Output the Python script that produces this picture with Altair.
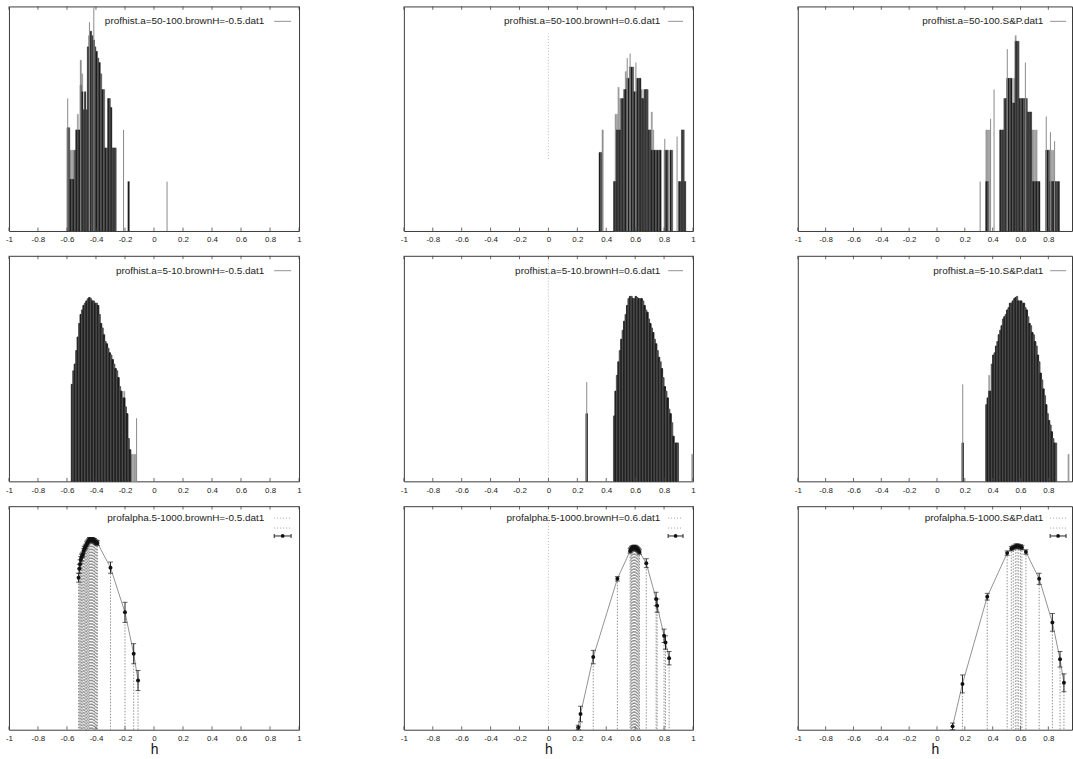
import altair as alt
import pandas as pd

FONT = "Liberation Sans"
BIN = 0.01
TICK_VALUES = [-1, -0.8, -0.6, -0.4, -0.2, 0, 0.2, 0.4, 0.6, 0.8, 1]

# panel geometry (plot areas)
PANEL_W = [292, 291, 276]
X_MAX = [1.0, 1.0, 0.97]
ROW_H = [226, 227, 225]
KEY_END = [257, 258, 247]
KEY_SAMPLE = [(267, 284), (266, 281), (254, 270)]

# ---------------- row 1: profhist a=50-100 ----------------
r1a_x = [-0.60, -0.59, -0.58, -0.57, -0.56, -0.55, -0.54, -0.53, -0.52, -0.51,
         -0.50, -0.49, -0.48, -0.47, -0.46, -0.45, -0.44, -0.43, -0.42, -0.41,
         -0.40, -0.39, -0.38, -0.37, -0.36, -0.35, -0.34, -0.33, -0.32, -0.31,
         -0.30, -0.29, -0.28, -0.27, -0.18]
r1a_h = [0.46, 0.46, 0.23, 0.23, 0.23, 0.36, 0.45, 0.45, 0.45, 0.65,
         0.62, 0.54, 0.62, 0.54, 0.82, 0.87, 0.89, 0.87, 0.85, 0.82,
         0.80, 0.77, 0.75, 0.70, 0.63, 0.63, 0.37, 0.37, 0.59, 0.59,
         0.55, 0.37, 0.37, 0.37, 0.22]
r1a_light_x = [-0.58, -0.57, -0.56, -0.53, -0.51, -0.50]
r1a_light_h = [0.36, 0.36, 0.36, 0.52, 0.76, 0.70]
r1a_spike_x = [-0.595, -0.505, -0.445, -0.415, -0.21, 0.09]
r1a_spike_h = [0.59, 0.76, 0.93, 1.0, 0.45, 0.22]

r1b_x = [0.35, 0.36, 0.45, 0.46, 0.47, 0.48, 0.49, 0.50, 0.51, 0.52,
         0.53, 0.54, 0.55, 0.56, 0.57, 0.58, 0.59, 0.60, 0.61, 0.62,
         0.63, 0.64, 0.65, 0.66, 0.67, 0.68, 0.69, 0.70, 0.71, 0.72,
         0.73, 0.74, 0.75, 0.76, 0.77, 0.80, 0.81, 0.82, 0.84, 0.85,
         0.90, 0.91, 0.92, 0.93, 0.94]
r1b_h = [0.35, 0.35, 0.22, 0.22, 0.45, 0.45, 0.45, 0.59, 0.59, 0.63,
         0.63, 0.68, 0.68, 0.73, 0.73, 0.73, 0.62, 0.62, 0.68, 0.68,
         0.68, 0.59, 0.59, 0.63, 0.63, 0.63, 0.45, 0.45, 0.36, 0.36,
         0.36, 0.36, 0.36, 0.36, 0.36, 0.36, 0.36, 0.36, 0.36, 0.36,
         0.22, 0.22, 0.45, 0.45, 0.22]
r1b_light_x = [0.37, 0.46, 0.47, 0.48, 0.49, 0.53, 0.64, 0.71, 0.72]
r1b_light_h = [0.45, 0.52, 0.52, 0.64, 0.59, 0.71, 0.63, 0.53, 0.45]
r1b_spike_x = [0.375, 0.545, 0.565, 0.605, 0.805, 0.89]
r1b_spike_h = [0.45, 0.77, 0.79, 0.75, 0.41, 0.42]
r1b_zero = [0.32, 0.88]

r1c_x = [0.35, 0.36, 0.45, 0.46, 0.47, 0.48, 0.49, 0.50, 0.51, 0.52,
         0.53, 0.54, 0.55, 0.56, 0.57, 0.58, 0.59, 0.60, 0.61, 0.62,
         0.63, 0.64, 0.65, 0.66, 0.67, 0.68, 0.69, 0.70, 0.71, 0.72,
         0.73, 0.78, 0.79, 0.80, 0.81, 0.82, 0.83, 0.84, 0.85, 0.86,
         0.87]
r1c_h = [0.22, 0.22, 0.45, 0.45, 0.45, 0.59, 0.59, 0.68, 0.68, 0.68,
         0.68, 0.57, 0.57, 0.845, 0.845, 0.845, 0.59, 0.59, 0.59, 0.59,
         0.59, 0.59, 0.53, 0.53, 0.53, 0.22, 0.22, 0.22, 0.22, 0.22,
         0.22, 0.36, 0.36, 0.36, 0.22, 0.22, 0.22, 0.22, 0.22, 0.22,
         0.22]
r1c_light_x = [0.35, 0.36, 0.37, 0.55, 0.56, 0.68, 0.69, 0.70, 0.71, 0.82, 0.83]
r1c_light_h = [0.45, 0.45, 0.45, 0.68, 0.87, 0.45, 0.45, 0.45, 0.45, 0.36, 0.36]
r1c_spike_x = [0.31, 0.385, 0.41, 0.505, 0.635, 0.785, 0.815, 0.845]
r1c_spike_h = [0.22, 0.50, 0.63, 0.81, 0.75, 0.51, 0.44, 0.40]

# ---------------- row 2: profhist a=5-10 ----------------
r2a_x = [-0.57, -0.56, -0.55, -0.54, -0.53, -0.52, -0.51, -0.50, -0.49, -0.48,
         -0.47, -0.46, -0.45, -0.44, -0.43, -0.42, -0.41, -0.40, -0.39, -0.38,
         -0.37, -0.36, -0.35, -0.34, -0.33, -0.32, -0.31, -0.30, -0.29, -0.28,
         -0.27, -0.26, -0.25, -0.24, -0.23, -0.22, -0.21, -0.20, -0.19, -0.18,
         -0.17]
r2a_h = [0.43, 0.49, 0.52, 0.58, 0.64, 0.70, 0.74, 0.76, 0.78, 0.79,
         0.80, 0.81, 0.815, 0.81, 0.80, 0.80, 0.79, 0.79, 0.78, 0.74,
         0.70, 0.68, 0.65, 0.62, 0.61, 0.59, 0.57, 0.56, 0.54, 0.52,
         0.50, 0.49, 0.46, 0.42, 0.40, 0.37, 0.37, 0.33, 0.30, 0.19,
         0.14]
r2a_light_x = [-0.21, -0.16, -0.15, -0.14, -0.13]
r2a_light_h = [0.40, 0.12, 0.12, 0.12, 0.12]
r2a_spike_x = [-0.12]
r2a_spike_h = [0.28]

r2b_x = [0.26, 0.45, 0.46, 0.47, 0.48, 0.49, 0.50, 0.51, 0.52, 0.53,
         0.54, 0.55, 0.56, 0.57, 0.58, 0.59, 0.60, 0.61, 0.62, 0.63,
         0.64, 0.65, 0.66, 0.67, 0.68, 0.69, 0.70, 0.71, 0.72, 0.73,
         0.74, 0.75, 0.76, 0.77, 0.78, 0.79, 0.80, 0.81, 0.82, 0.83,
         0.84, 0.85, 0.86, 0.87, 0.88, 0.89]
r2b_h = [0.30, 0.29, 0.40, 0.47, 0.53, 0.58, 0.63, 0.67, 0.71, 0.74,
         0.78, 0.81, 0.82, 0.82, 0.81, 0.81, 0.82, 0.815, 0.81, 0.81,
         0.81, 0.80, 0.78, 0.76, 0.75, 0.72, 0.70, 0.68, 0.66, 0.63,
         0.61, 0.58, 0.55, 0.53, 0.50, 0.46, 0.42, 0.40, 0.37, 0.32,
         0.30, 0.26, 0.20, 0.17, 0.17, 0.17]
r2b_light_x = [0.99]
r2b_light_h = [0.12]
r2b_spike_x = [0.265]
r2b_spike_h = [0.44]
r2b_zero = [0.0, 1.0]

r2c_x = [0.18, 0.35, 0.36, 0.37, 0.38, 0.39, 0.40, 0.41, 0.42, 0.43,
         0.44, 0.45, 0.46, 0.47, 0.48, 0.49, 0.50, 0.51, 0.52, 0.53,
         0.54, 0.55, 0.56, 0.57, 0.58, 0.59, 0.60, 0.61, 0.62, 0.63,
         0.64, 0.65, 0.66, 0.67, 0.68, 0.69, 0.70, 0.71, 0.72, 0.73,
         0.74, 0.75, 0.76, 0.77, 0.78, 0.79, 0.80, 0.81, 0.82, 0.83,
         0.84, 0.85]
r2c_h = [0.17, 0.34, 0.37, 0.40, 0.40, 0.52, 0.56, 0.57, 0.60, 0.62,
         0.65, 0.67, 0.69, 0.72, 0.73, 0.74, 0.76, 0.77, 0.79, 0.79,
         0.80, 0.81, 0.815, 0.82, 0.80, 0.80, 0.80, 0.79, 0.79, 0.77,
         0.76, 0.73, 0.70, 0.69, 0.66, 0.65, 0.62, 0.60, 0.56, 0.53,
         0.48, 0.45, 0.41, 0.38, 0.34, 0.30, 0.27, 0.25, 0.22, 0.19,
         0.17, 0.17]
r2c_light_x = [0.37, 0.94]
r2c_light_h = [0.47, 0.12]
r2c_spike_x = [0.185]
r2c_spike_h = [0.43]

# ---------------- row 3: profalpha 5-1000 ----------------
r3a_x = [-0.520, -0.515, -0.510, -0.505, -0.500, -0.495, -0.490, -0.485, -0.480, -0.475,
         -0.470, -0.465, -0.460, -0.455, -0.450, -0.445, -0.440, -0.435, -0.430, -0.425,
         -0.420, -0.415, -0.410, -0.405, -0.400, -0.395, -0.390, -0.300, -0.200, -0.140,
         -0.110]
r3a_y = [0.68, 0.72, 0.74, 0.76, 0.77, 0.78, 0.785, 0.80, 0.81, 0.815,
         0.82, 0.83, 0.835, 0.84, 0.845, 0.85, 0.85, 0.85, 0.85, 0.85,
         0.848, 0.845, 0.845, 0.84, 0.838, 0.836, 0.835, 0.725, 0.525, 0.34,
         0.22]
r3a_err = [0.02, 0.02, 0.02, 0.015, 0.015, 0.01, 0.01, 0.01, 0.01, 0.01,
           0.01, 0.01, 0.01, 0.01, 0.01, 0.01, 0.01, 0.01, 0.01, 0.01,
           0.01, 0.01, 0.01, 0.01, 0.01, 0.01, 0.01, 0.025, 0.045, 0.045,
           0.045]

r3b_x = [0.206, 0.222, 0.310, 0.477, 0.565, 0.570, 0.575, 0.580, 0.585, 0.590,
         0.595, 0.600, 0.605, 0.610, 0.615, 0.620, 0.625, 0.630, 0.677, 0.745,
         0.752, 0.800, 0.810, 0.835]
r3b_y = [0.01, 0.07, 0.325, 0.675, 0.80, 0.805, 0.81, 0.812, 0.814, 0.815,
         0.815, 0.815, 0.813, 0.81, 0.808, 0.805, 0.80, 0.795, 0.745, 0.585,
         0.555, 0.42, 0.39, 0.32]
r3b_err = [0.01, 0.035, 0.03, 0.01, 0.01, 0.01, 0.01, 0.01, 0.01, 0.01,
           0.01, 0.01, 0.01, 0.01, 0.01, 0.01, 0.01, 0.01, 0.02, 0.03,
           0.03, 0.03, 0.03, 0.03]
r3b_zero = [0.0, 1.0]

r3c_x = [0.112, 0.183, 0.361, 0.504, 0.534, 0.548, 0.563, 0.575, 0.587, 0.600,
         0.610, 0.639, 0.734, 0.829, 0.884, 0.912]
r3c_y = [0.015, 0.205, 0.595, 0.79, 0.81, 0.815, 0.82, 0.822, 0.82, 0.818,
         0.815, 0.795, 0.675, 0.48, 0.315, 0.21]
r3c_err = [0.015, 0.04, 0.015, 0.01, 0.01, 0.01, 0.01, 0.01, 0.01, 0.01,
           0.01, 0.01, 0.025, 0.04, 0.035, 0.04]

LABELS = [
    ["profhist.a=50-100.brownH=-0.5.dat1", "profhist.a=50-100.brownH=0.6.dat1", "profhist.a=50-100.S&P.dat1"],
    ["profhist.a=5-10.brownH=-0.5.dat1", "profhist.a=5-10.brownH=0.6.dat1", "profhist.a=5-10.S&P.dat1"],
    ["profalpha.5-1000.brownH=-0.5.dat1", "profalpha.5-1000.brownH=0.6.dat1", "profalpha.5-1000.S&P.dat1"],
]


def x_scale(col):
    return alt.Scale(domain=[-1, X_MAX[col]], nice=False, zero=False)


Y_SCALE = alt.Scale(domain=[0, 1], nice=False, zero=False)


def x_axis(col, title):
    vals = [v for v in TICK_VALUES if v <= X_MAX[col] + 1e-9]
    return alt.Axis(
        values=vals,
        labelExpr="datum.value == 0 ? '0' : toString(round(datum.value * 10) / 10)",
        title=title, ticks=False, domain=False, grid=False,
        labelFont=FONT, labelFontSize=8, labelColor="#222", labelPadding=5,
        labelFlush=False, labelOverlap=False,
        titleFont=FONT, titleFontSize=14, titleFontWeight="normal",
        titleColor="#111", titlePadding=0,
    )


def xq(field, col, title):
    return alt.X(field, type="quantitative", scale=x_scale(col), axis=x_axis(col, title))


def yq(field):
    return alt.Y(field, type="quantitative", scale=Y_SCALE, axis=None)


def frame_ticks(col, title):
    vals = [v for v in TICK_VALUES if v <= X_MAX[col] + 1e-9]
    d = pd.DataFrame({"t": vals})
    base = alt.Chart(d).mark_rule(color="#444", strokeWidth=0.8)
    bottom = base.encode(x=xq("t", col, title), y=alt.datum(0, scale=Y_SCALE), y2=alt.datum(0.015))
    top = base.encode(x=xq("t", col, title), y=alt.datum(0.985, scale=Y_SCALE), y2=alt.datum(1.0))
    return [bottom, top]


def zero_line(col, span, title):
    d = pd.DataFrame({"x": [0.0], "lo": [span[0]], "hi": [span[1]]})
    return alt.Chart(d).mark_rule(color="#aaa", strokeWidth=0.8, strokeDash=[1, 2]).encode(
        x=xq("x", col, title), y=yq("lo"), y2="hi"
    )


def key_text(col, label, y):
    d = pd.DataFrame({"label": [label]})
    return alt.Chart(d).mark_text(align="right", baseline="middle", font=FONT, fontSize=10,
                                  color="#222").encode(x=alt.value(KEY_END[col]), y=alt.value(y),
                                                       text="label:N")


def key_single(col, label):
    s0, s1 = KEY_SAMPLE[col]
    d = pd.DataFrame({"label": [label]})
    line = alt.Chart(d).mark_rule(color="#777", strokeWidth=0.8).encode(
        x=alt.value(s0), x2=alt.value(s1), y=alt.value(15))
    return [key_text(col, label, 15), line]


def key_triple(col, label):
    s0, s1 = KEY_SAMPLE[col]
    d = pd.DataFrame({"label": [label]})
    dot1 = alt.Chart(d).mark_rule(color="#888", strokeWidth=0.8, strokeDash=[1, 2]).encode(
        x=alt.value(s0), x2=alt.value(s1), y=alt.value(12))
    dot2 = alt.Chart(d).mark_rule(color="#888", strokeWidth=0.8, strokeDash=[1, 2]).encode(
        x=alt.value(s0), x2=alt.value(s1), y=alt.value(22))
    err = alt.Chart(d).mark_rule(color="#222", strokeWidth=1).encode(
        x=alt.value(s0), x2=alt.value(s1), y=alt.value(30))
    cap0 = alt.Chart(d).mark_rule(color="#222", strokeWidth=1).encode(
        x=alt.value(s0), y=alt.value(28), y2=alt.value(32))
    cap1 = alt.Chart(d).mark_rule(color="#222", strokeWidth=1).encode(
        x=alt.value(s1), y=alt.value(28), y2=alt.value(32))
    pt = alt.Chart(d).mark_point(filled=True, color="#111", size=14, opacity=1).encode(
        x=alt.value((s0 + s1) / 2), y=alt.value(30))
    return [key_text(col, label, 12), dot1, dot2, err, cap0, cap1, pt]


def bar_frame(xs, hs):
    d = pd.DataFrame({"x0": xs, "h": hs})
    d["x1"] = d["x0"] + BIN
    d["run"] = [i % 2 for i in range(len(d))]
    return d


def hist_panel(row, col, bx, bh, lx, lh, sx, sh, zero=None, shades=("#1c1c1c", "#4a4a4a"),
               edge=0.4):
    title = None
    layers = []
    if zero is not None:
        layers.append(zero_line(col, zero, title))
    if lx:
        layers.append(alt.Chart(bar_frame(lx, lh)).mark_rect(color="#9c9c9c", stroke="#9c9c9c",
                                                             strokeWidth=0.3).encode(
            x=xq("x0", col, title), x2="x1", y=yq("h"), y2=alt.datum(0)))
    run_scale = alt.Scale(domain=[0, 1], range=list(shades))
    layers.append(alt.Chart(bar_frame(bx, bh)).mark_rect(strokeWidth=edge).encode(
        x=xq("x0", col, title), x2="x1", y=yq("h"), y2=alt.datum(0),
        fill=alt.Fill("run:N", scale=run_scale, legend=None),
        stroke=alt.Stroke("run:N", scale=run_scale, legend=None)))
    if sx:
        sd = pd.DataFrame({"x": sx, "h": sh})
        layers.append(alt.Chart(sd).mark_rule(color="#8a8a8a", strokeWidth=1).encode(
            x=xq("x", col, title), y=yq("h"), y2=alt.datum(0)))
    layers += frame_ticks(col, title)
    layers += key_single(col, LABELS[row][col])
    return alt.layer(*layers).properties(width=PANEL_W[col], height=ROW_H[row])


def alpha_panel(col, px, py, perr, zero=None):
    title = "h"
    d = pd.DataFrame({"x": px, "y": py, "e": perr})
    d["lo"] = d["y"] - d["e"]
    d["hi"] = d["y"] + d["e"]
    base = alt.Chart(d)
    layers = []
    if zero is not None:
        layers.append(zero_line(col, zero, title))
    layers.append(base.mark_rule(color="#777", strokeWidth=0.8, strokeDash=[1.5, 1.5]).encode(
        x=xq("x", col, title), y=yq("y"), y2=alt.datum(0)))
    layers.append(base.mark_line(color="#777", strokeWidth=0.8).encode(
        x=xq("x", col, title), y=yq("y"), order="x:Q"))
    layers.append(base.mark_rule(color="#222", strokeWidth=1).encode(
        x=xq("x", col, title), y=yq("lo"), y2="hi"))
    layers.append(base.mark_tick(color="#222", orient="horizontal", size=5, thickness=1).encode(
        x=xq("x", col, title), y=yq("lo")))
    layers.append(base.mark_tick(color="#222", orient="horizontal", size=5, thickness=1).encode(
        x=xq("x", col, title), y=yq("hi")))
    layers.append(base.mark_point(filled=True, color="#111", size=16, opacity=1).encode(
        x=xq("x", col, title), y=yq("y")))
    layers += frame_ticks(col, title)
    layers += key_triple(col, LABELS[2][col])
    return alt.layer(*layers).properties(width=PANEL_W[col], height=ROW_H[2])


row1 = alt.hconcat(
    hist_panel(0, 0, r1a_x, r1a_h, r1a_light_x, r1a_light_h, r1a_spike_x, r1a_spike_h),
    hist_panel(0, 1, r1b_x, r1b_h, r1b_light_x, r1b_light_h, r1b_spike_x, r1b_spike_h, zero=r1b_zero),
    hist_panel(0, 2, r1c_x, r1c_h, r1c_light_x, r1c_light_h, r1c_spike_x, r1c_spike_h),
    spacing=97.5,
)
row2 = alt.hconcat(
    hist_panel(1, 0, r2a_x, r2a_h, r2a_light_x, r2a_light_h, r2a_spike_x, r2a_spike_h,
               shades=("#1a1a1a", "#303030"), edge=0.9),
    hist_panel(1, 1, r2b_x, r2b_h, r2b_light_x, r2b_light_h, r2b_spike_x, r2b_spike_h, zero=r2b_zero,
               shades=("#262626", "#3c3c3c"), edge=0.9),
    hist_panel(1, 2, r2c_x, r2c_h, r2c_light_x, r2c_light_h, r2c_spike_x, r2c_spike_h,
               shades=("#262626", "#3c3c3c"), edge=0.9),
    spacing=97.5,
)
row3 = alt.hconcat(
    alpha_panel(0, r3a_x, r3a_y, r3a_err),
    alpha_panel(1, r3b_x, r3b_y, r3b_err, zero=r3b_zero),
    alpha_panel(2, r3c_x, r3c_y, r3c_err),
    spacing=97.5,
)

chart = alt.vconcat(row1, row2, row3, spacing=10).properties(
    padding={"left": 4, "top": 3, "right": 0, "bottom": 0},
    background="white",
).configure_view(stroke="#3a3a3a", strokeWidth=1)

chart.save("out.html", embed_options={"renderer": "svg", "actions": False})
